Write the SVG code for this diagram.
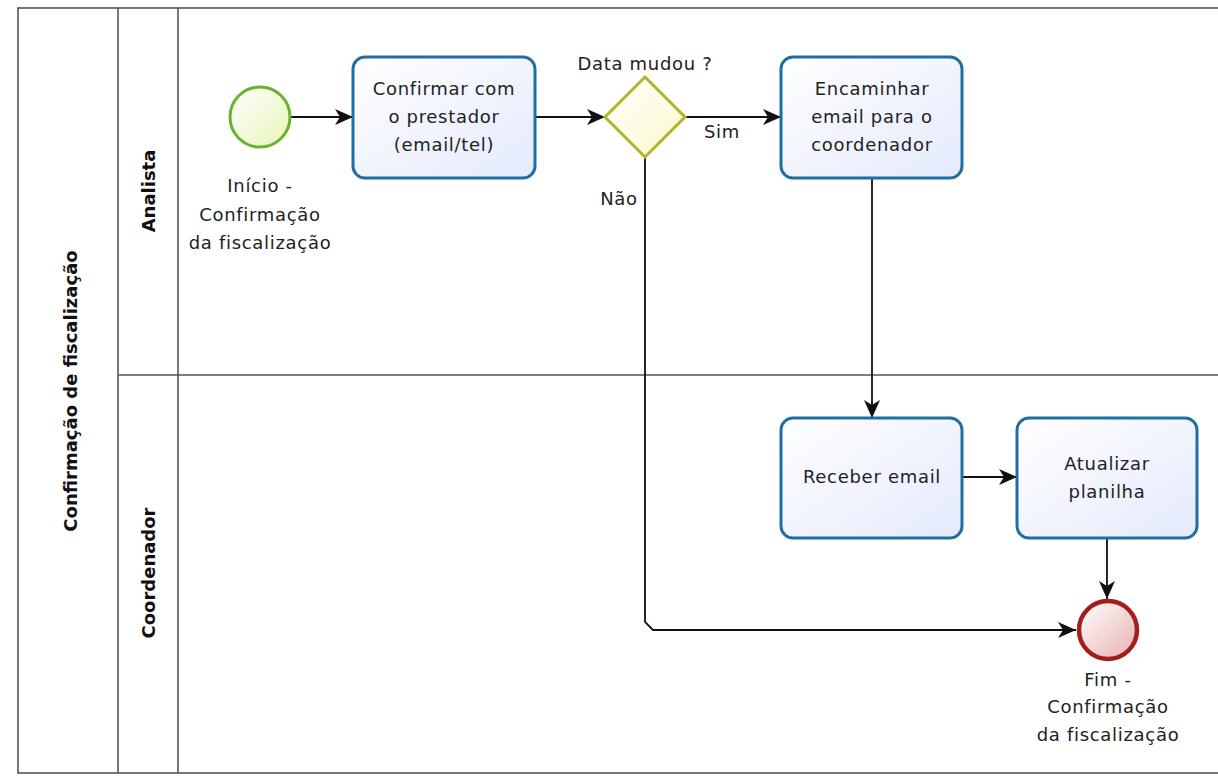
<svg xmlns="http://www.w3.org/2000/svg" width="1218" height="777" viewBox="0 0 1218 777">
<defs>
<linearGradient id="gTask" x1="0" y1="0" x2="1" y2="1"><stop offset="0" stop-color="#ffffff"/><stop offset="1" stop-color="#e4eafc"/></linearGradient>
<linearGradient id="gStart" x1="0" y1="0" x2="1" y2="1"><stop offset="0" stop-color="#ffffff"/><stop offset="1" stop-color="#e6f5b8"/></linearGradient>
<linearGradient id="gEnd" x1="0" y1="0" x2="1" y2="1"><stop offset="0" stop-color="#ffffff"/><stop offset="1" stop-color="#e8b0b0"/></linearGradient>
<linearGradient id="gGw" x1="0" y1="0" x2="1" y2="1"><stop offset="0" stop-color="#ffffff"/><stop offset="1" stop-color="#fcf8c8"/></linearGradient>
<marker id="arr" markerWidth="20" markerHeight="18" refX="19" refY="9" orient="auto" markerUnits="userSpaceOnUse">
<path d="M1,1 L19,9 L1,17 L6,9 z" fill="#111"/>
</marker>
</defs>
<style>
.pool{fill:#fff;stroke:#555;stroke-width:1.6}
.task{fill:url(#gTask);stroke:#1f6fa3;stroke-width:3}
.t{font-family:"DejaVu Sans",sans-serif;font-size:18px;fill:#222;text-anchor:middle;letter-spacing:0.7px}
.h{font-family:"DejaVu Sans",sans-serif;font-size:18px;font-weight:bold;fill:#111;text-anchor:middle}
.c{fill:none;stroke:#111;stroke-width:1.8}
</style>
<rect width="1218" height="777" fill="#fff"/>
<g id="pool">
<rect class="pool" x="18" y="8" width="1210" height="765"/>
<line class="pool" x1="118" y1="8" x2="118" y2="773"/>
<line class="pool" x1="178" y1="8" x2="178" y2="773"/>
<line class="pool" x1="118" y1="375" x2="1218" y2="375"/>
<text class="h" transform="translate(77,391) rotate(-90)">Confirmação de fiscalização</text>
</g>
<g id="lane-analista"><text class="h" transform="translate(155,191) rotate(-90)">Analista</text></g>
<g id="lane-coordenador"><text class="h" transform="translate(155,573) rotate(-90)">Coordenador</text></g>
<g id="connectors">
<line class="c" x1="291" y1="117" x2="353" y2="117" marker-end="url(#arr)"/>
<line class="c" x1="535" y1="117" x2="605" y2="117" marker-end="url(#arr)"/>
<line class="c" x1="685" y1="117" x2="781" y2="117" marker-end="url(#arr)"/>
<polyline class="c" points="645,157 645,622 653,630 1076,630" marker-end="url(#arr)"/>
<line class="c" x1="872" y1="178" x2="872" y2="418" marker-end="url(#arr)"/>
<line class="c" x1="962" y1="477" x2="1017" y2="477" marker-end="url(#arr)"/>
<line class="c" x1="1107" y1="538" x2="1107" y2="599" marker-end="url(#arr)"/>
<text class="t" x="722" y="138">Sim</text>
<text class="t" x="619" y="205">Não</text>
</g>
<g id="start">
<circle cx="260" cy="117" r="30" fill="url(#gStart)" stroke="#6bb12e" stroke-width="3"/>
<text class="t" x="260" y="192">Início -</text>
<text class="t" x="260" y="221">Confirmação</text>
<text class="t" x="260" y="249">da fiscalização</text>
</g>
<g id="task-confirmar">
<rect class="task" x="353" y="57" width="182" height="121" rx="12"/>
<text class="t" x="444" y="95">Confirmar com</text>
<text class="t" x="444" y="123">o prestador</text>
<text class="t" x="444" y="151">(email/tel)</text>
</g>
<g id="gateway">
<polygon points="645,77 685,117 645,157 605,117" fill="url(#gGw)" stroke="#b3b32b" stroke-width="3"/>
<text class="t" x="645" y="70">Data mudou ?</text>
</g>
<g id="task-encaminhar">
<rect class="task" x="781" y="57" width="181" height="121" rx="12"/>
<text class="t" x="872" y="95">Encaminhar</text>
<text class="t" x="872" y="123">email para o</text>
<text class="t" x="872" y="151">coordenador</text>
</g>
<g id="task-receber">
<rect class="task" x="781" y="418" width="181" height="120" rx="12"/>
<text class="t" x="872" y="483">Receber email</text>
</g>
<g id="task-atualizar">
<rect class="task" x="1017" y="418" width="180" height="120" rx="12"/>
<text class="t" x="1107" y="470">Atualizar</text>
<text class="t" x="1107" y="498">planilha</text>
</g>
<g id="end">
<circle cx="1108" cy="630" r="29" fill="url(#gEnd)" stroke="#a31d1d" stroke-width="4.5"/>
<text class="t" x="1108" y="686">Fim -</text>
<text class="t" x="1108" y="713">Confirmação</text>
<text class="t" x="1108" y="741">da fiscalização</text>
</g>
</svg>
